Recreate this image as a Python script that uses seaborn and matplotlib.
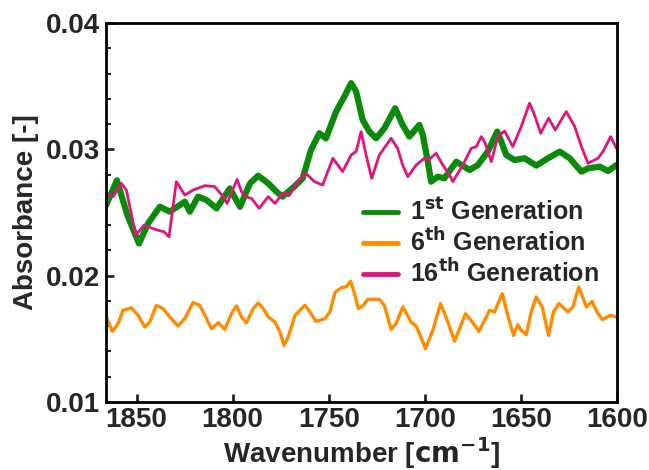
import matplotlib
matplotlib.use("Agg")
import matplotlib.pyplot as plt
import seaborn as sns
import pandas as pd

# FTIR absorbance spectra, carbonyl / amide region
gen1_wn = [1865.9, 1860.2, 1854.8, 1848.7, 1844.0, 1837.9, 1832.7, 1827.5, 1824.9, 1822.3,
           1818.0, 1813.6, 1808.4, 1801.5, 1796.2, 1791.0, 1786.7, 1781.5, 1777.2, 1774.1,
           1768.0, 1763.6, 1759.3, 1754.9, 1751.5, 1746.2, 1741.9, 1738.4, 1735.8, 1732.4,
           1728.9, 1725.4, 1721.1, 1715.5, 1711.6, 1708.1, 1702.9, 1701.1, 1698.5, 1696.8,
           1693.3, 1689.9, 1683.7, 1676.8, 1672.5, 1667.3, 1662.4, 1660.3, 1657.7, 1653.4,
           1648.2, 1642.1, 1636.0, 1629.9, 1624.7, 1618.6, 1615.2, 1609.1, 1604.8, 1600.4]
gen1_abs = [0.02556, 0.02754, 0.02479, 0.02254, 0.02413, 0.02545, 0.02506, 0.02558, 0.02585, 0.02506,
            0.02625, 0.02598, 0.02532, 0.02690, 0.02545, 0.02730, 0.02791, 0.02730, 0.02664, 0.02625,
            0.02704, 0.02770, 0.02994, 0.03127, 0.03087, 0.03299, 0.03418, 0.03524, 0.03458, 0.03233,
            0.03140, 0.03087, 0.03167, 0.03325, 0.03193, 0.03101, 0.03193, 0.03113, 0.02902, 0.02744,
            0.02783, 0.02770, 0.02902, 0.02836, 0.02875, 0.02982, 0.03140, 0.03061, 0.02955, 0.02915,
            0.02929, 0.02871, 0.02929, 0.02982, 0.02929, 0.02823, 0.02849, 0.02863, 0.02828, 0.02875]

gen6_wn = [1865.7, 1862.6, 1859.6, 1857.0, 1852.7, 1849.2, 1845.7, 1843.1, 1839.7, 1836.2,
           1832.7, 1828.4, 1824.9, 1820.6, 1817.1, 1813.6, 1811.0, 1807.5, 1804.1, 1800.6,
           1798.0, 1795.4, 1792.8, 1789.3, 1786.7, 1784.1, 1781.5, 1778.0, 1775.4, 1773.3,
           1771.1, 1767.6, 1762.4, 1759.8, 1756.7, 1752.0, 1749.4, 1746.8, 1743.3, 1741.0,
           1738.6, 1736.4, 1734.6, 1732.0, 1729.8, 1723.7, 1721.1, 1717.6, 1715.0, 1711.5,
           1707.2, 1704.3, 1699.7, 1695.9, 1691.9, 1688.7, 1684.6, 1682.0, 1678.9, 1675.4,
           1672.0, 1668.5, 1666.4, 1663.8, 1659.8, 1656.9, 1653.9, 1651.7, 1649.9, 1647.3,
           1644.7, 1642.1, 1639.0, 1635.7, 1633.1, 1630.3, 1625.6, 1623.0, 1620.0, 1616.0,
           1613.1, 1610.5, 1607.7, 1603.5, 1600.4]
gen6_abs = [0.01672, 0.01558, 0.01619, 0.01725, 0.01744, 0.01685, 0.01593, 0.01633, 0.01764, 0.01738,
            0.01672, 0.01601, 0.01659, 0.01786, 0.01764, 0.01659, 0.01579, 0.01627, 0.01574, 0.01698,
            0.01760, 0.01672, 0.01627, 0.01738, 0.01783, 0.01738, 0.01672, 0.01633, 0.01553, 0.01447,
            0.01513, 0.01685, 0.01764, 0.01712, 0.01637, 0.01659, 0.01712, 0.01867, 0.01905, 0.01910,
            0.01955, 0.01844, 0.01738, 0.01764, 0.01812, 0.01812, 0.01764, 0.01574, 0.01619, 0.01752,
            0.01633, 0.01593, 0.01421, 0.01566, 0.01778, 0.01659, 0.01479, 0.01579, 0.01698, 0.01633,
            0.01558, 0.01659, 0.01725, 0.01712, 0.01857, 0.01685, 0.01526, 0.01611, 0.01566, 0.01532,
            0.01712, 0.01831, 0.01752, 0.01526, 0.01712, 0.01778, 0.01712, 0.01752, 0.01910, 0.01752,
            0.01796, 0.01712, 0.01651, 0.01685, 0.01672]

gen16_wn = [1865.7, 1862.2, 1857.9, 1855.3, 1850.4, 1846.1, 1839.2, 1835.7, 1833.1, 1829.3,
            1824.9, 1820.6, 1814.5, 1809.3, 1805.0, 1802.9, 1799.7, 1797.7, 1795.4, 1793.1,
            1790.2, 1786.2, 1781.5, 1778.0, 1774.1, 1770.6, 1766.2, 1761.9, 1757.5, 1753.2,
            1747.9, 1742.8, 1738.4, 1735.8, 1733.2, 1730.6, 1727.7, 1723.7, 1717.6, 1714.2,
            1711.6, 1708.9, 1704.6, 1700.3, 1698.2, 1694.2, 1690.7, 1687.2, 1685.5, 1680.3,
            1675.9, 1673.3, 1670.7, 1668.6, 1665.5, 1662.1, 1658.6, 1654.3, 1649.9, 1645.6,
            1643.0, 1639.8, 1635.7, 1632.2, 1626.5, 1622.1, 1618.6, 1615.2, 1610.0, 1607.4,
            1603.4, 1600.4]
gen16_abs = [0.02651, 0.02625, 0.02730, 0.02677, 0.02320, 0.02399, 0.02360, 0.02347, 0.02307, 0.02744,
             0.02637, 0.02677, 0.02712, 0.02704, 0.02625, 0.02571, 0.02690, 0.02762, 0.02664, 0.02625,
             0.02611, 0.02532, 0.02625, 0.02571, 0.02651, 0.02633, 0.02744, 0.02810, 0.02744, 0.02717,
             0.02929, 0.02823, 0.02955, 0.02982, 0.03140, 0.02955, 0.02770, 0.02955, 0.03087, 0.03008,
             0.02875, 0.02783, 0.02875, 0.02929, 0.02915, 0.02968, 0.02875, 0.02796, 0.02744, 0.02875,
             0.03008, 0.03021, 0.03100, 0.03048, 0.02902, 0.03100, 0.03145, 0.03021, 0.03180, 0.03365,
             0.03272, 0.03127, 0.03246, 0.03153, 0.03299, 0.03180, 0.03021, 0.02889, 0.02929, 0.02982,
             0.03100, 0.03008]

labels = [r"1$^{\mathbf{st}}$ Generation",
          r"6$^{\mathbf{th}}$ Generation",
          r"16$^{\mathbf{th}}$ Generation"]
colors = ["#0A8A0A", "#FF8C00", "#E2137A"]
widths = [4.5, 2.4, 2.0]

x_ticks = [1850, 1800, 1750, 1700, 1650, 1600]
y_ticks = [0.01, 0.02, 0.03, 0.04]

sns.set_style("ticks")
plt.rcParams["font.family"] = ["Liberation Sans", "DejaVu Sans"]
plt.rcParams["font.weight"] = "bold"
plt.rcParams["mathtext.fontset"] = "dejavusans"

fig = plt.figure(figsize=(6.49, 4.70), dpi=100)
ax = fig.add_axes([0.163, 0.145, 0.788, 0.806])

series = [(gen1_wn, gen1_abs), (gen6_wn, gen6_abs), (gen16_wn, gen16_abs)]
for (wn, ab), lab, col, lw in zip(series, labels, colors, widths):
    df = pd.DataFrame({"wn": wn, "abs": ab})
    sns.lineplot(data=df, x="wn", y="abs", ax=ax, color=col, linewidth=lw,
                 label=lab, solid_joinstyle="round", solid_capstyle="round")

ax.set_xlim(1866, 1600)
ax.set_ylim(0.01, 0.04)
ax.set_xticks(x_ticks)
ax.set_xticklabels([str(t) for t in x_ticks])
ax.set_yticks(y_ticks)
ax.set_yticklabels([f"{t:.2f}" for t in y_ticks])
ax.set_yticks([0.012, 0.014, 0.016, 0.018, 0.022, 0.024, 0.026, 0.028,
               0.032, 0.034, 0.036, 0.038], minor=True)

ax.tick_params(axis="both", which="major", direction="in", length=6, width=2,
               labelsize=20, pad=4)
ax.tick_params(axis="y", which="minor", direction="in", length=3.5, width=1.5)
for lbl in ax.get_xticklabels() + ax.get_yticklabels():
    lbl.set_fontweight("bold")

for sp in ax.spines.values():
    sp.set_visible(True)
    sp.set_linewidth(2)
    sp.set_color("black")

ax.set_xlabel(r"Wavenumber [$\mathbf{cm^{-1}}$]", fontsize=20, fontweight="bold", labelpad=1)
ax.set_ylabel("Absorbance [-]", fontsize=20, fontweight="bold", labelpad=5)

leg = ax.legend(loc="upper left", bbox_to_anchor=(363 / 649, 1 - 199 / 470),
                bbox_transform=fig.transFigure, frameon=False,
                borderpad=0, borderaxespad=0, handlelength=1.4, handletextpad=0.5,
                labelspacing=0.1, prop={"weight": "bold", "size": 18})
for h in leg.get_lines():
    h.set_linewidth(3.5)

fig.savefig("out.png", dpi=100)
